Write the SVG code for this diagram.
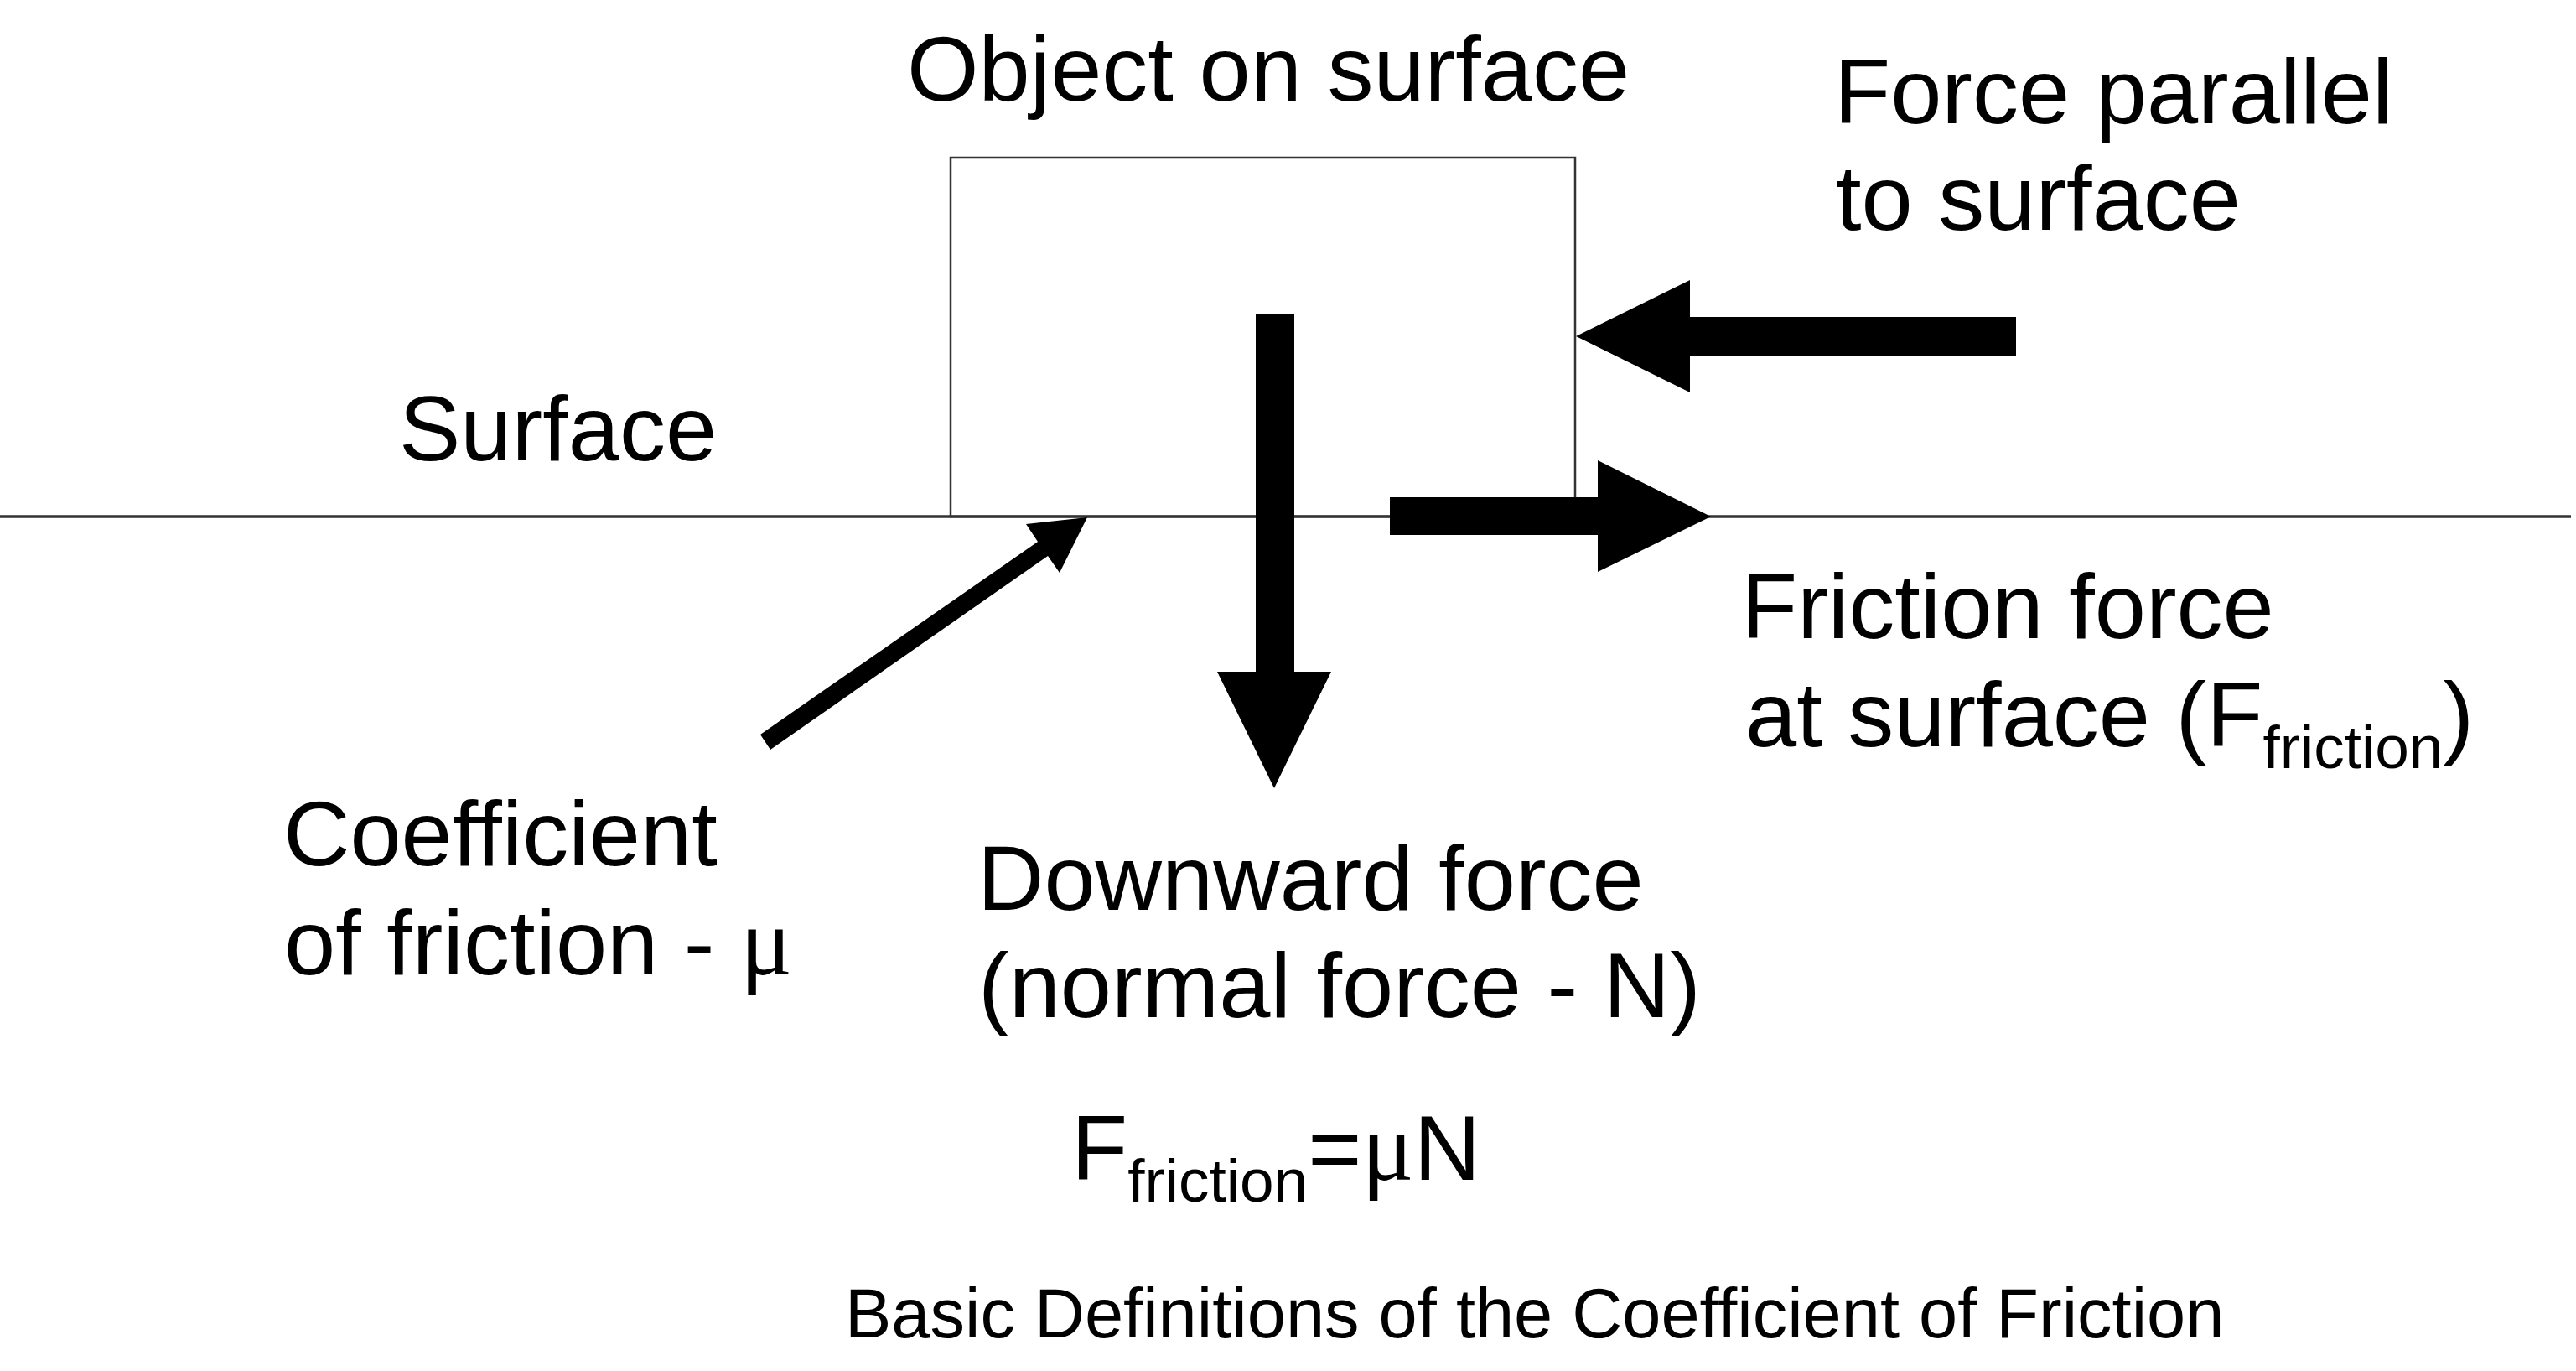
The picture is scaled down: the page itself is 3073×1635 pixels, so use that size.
<svg xmlns="http://www.w3.org/2000/svg" width="3073" height="1635" viewBox="0 0 3073 1635">
<style>
.t{font-family:"Liberation Sans",Arial,sans-serif;font-size:110px;fill:#000}
.sub{font-size:73px}
.mu{font-family:"Liberation Serif","Times New Roman",serif;font-size:116px}
.cap{font-family:"Liberation Sans",Arial,sans-serif;font-size:83px;fill:#000}
.arrow{fill:#000;stroke:none}
</style>
<rect width="3073" height="1635" fill="#fff"/>
<g id="surface">
<line x1="0" y1="616" x2="3067" y2="616" stroke="#333" stroke-width="3.5"/>
<text class="t" x="476" y="549">Surface</text>
</g>
<g id="object">
<rect x="1134" y="188" width="745" height="428" fill="none" stroke="#333" stroke-width="2.5"/>
<text class="t" x="1082" y="120">Object on surface</text>
</g>
<g id="connectors">
<polygon class="arrow" points="2405,378 2016,378 2016,334 1880,401 2016,468 2016,424 2405,424"/>
<polygon class="arrow" points="1658,593 1906,593 1906,549 2041,616 1906,682 1906,638 1658,638"/>
<polygon class="arrow" points="1498,375 1544,375 1544,801 1588,801 1520,940 1452,801 1498,801"/>
<polygon class="arrow" points="907,876 1238,646 1224,625 1297,617 1264,683 1250,663 919,894"/>
</g>
<g id="force-parallel">
<text class="t" x="2188" y="147">Force parallel</text>
<text class="t" x="2190" y="274">to surface</text>
</g>
<g id="friction-force">
<text class="t" x="2077" y="761">Friction force</text>
<text class="t" x="2082" y="890">at surface (F<tspan class="sub" dy="26">friction</tspan><tspan dy="-26">)</tspan></text>
</g>
<g id="coefficient">
<text class="t" x="338" y="1032">Coefficient</text>
<text class="t" x="339" y="1162">of friction - <tspan class="mu">μ</tspan></text>
</g>
<g id="normal-force">
<text class="t" x="1166" y="1085">Downward force</text>
<text class="t" x="1167" y="1213">(normal force - N)</text>
</g>
<g id="formula">
<text class="t" x="1278" y="1407">F<tspan class="sub" dy="26">friction</tspan><tspan dy="-26">=</tspan><tspan class="mu">μ</tspan>N</text>
</g>
<g id="caption">
<text class="cap" x="1008" y="1595">Basic Definitions of the Coefficient of Friction</text>
</g>
</svg>
